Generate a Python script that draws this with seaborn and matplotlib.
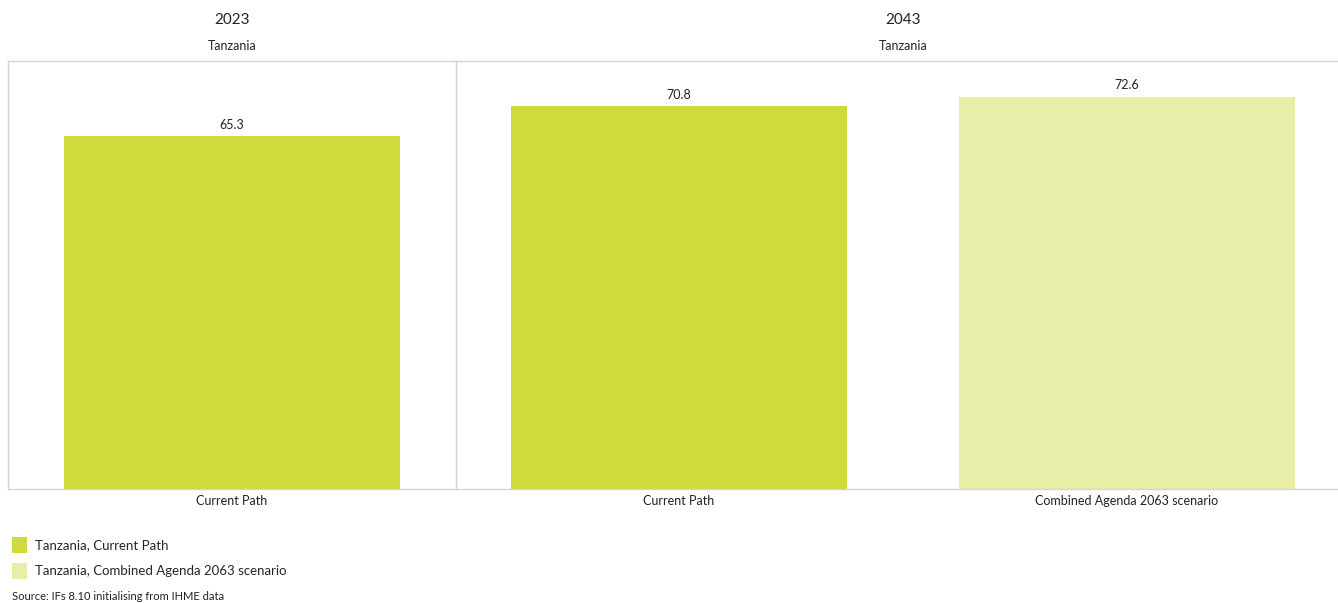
import matplotlib
matplotlib.use("Agg")
import matplotlib.pyplot as plt
import seaborn as sns
import pandas as pd
from matplotlib.patches import Patch

sns.set_theme(style="white")
plt.rcParams['font.family'] = ['Lato', 'DejaVu Sans']

years = ["2023", "2043"]
country = "Tanzania"
cats_2023 = ["Current Path"]
vals_2023 = [65.3]
cats_2043 = ["Current Path", "Combined Agenda 2063 scenario"]
vals_2043 = [70.8, 72.6]
legend_labels = ["Tanzania, Current Path", "Tanzania, Combined Agenda 2063 scenario"]
source = "Source: IFs 8.10 initialising from IHME data"

c_cp = "#D0DA3B"
c_ag = "#E8EDA7"
colors = {"Current Path": c_cp, "Combined Agenda 2063 scenario": c_ag}

W, H = 1338, 603
fig = plt.figure(figsize=(W / 100, H / 100), dpi=100)

def fax(x0, x1, y0=61, y1=489):
    return fig.add_axes([x0 / W, (H - y1) / H, (x1 - x0) / W, (y1 - y0) / H])

ax2 = fax(455, 1351)
ax1 = fax(8, 456)
ax1.patch.set_alpha(0)

ymax = 79.2
for ax, cats, vals, yr in [(ax1, cats_2023, vals_2023, years[0]), (ax2, cats_2043, vals_2043, years[1])]:
    df = pd.DataFrame({"cat": cats, "val": vals})
    sns.barplot(data=df, x="cat", y="val", hue="cat", palette=colors, width=0.75,
                legend=False, ax=ax, saturation=1, linewidth=0)
    ax.set_ylim(0, ymax)
    ax.set_xlim(-0.5, len(cats) - 0.5)
    ax.set_xlabel("")
    ax.set_ylabel("")
    ax.set_yticks([])
    ax.tick_params(axis="x", length=0, labelsize=9, colors="#222222", pad=4)
    for s in ax.spines.values():
        s.set_color("#d4d4d4")
        s.set_linewidth(1)
    for c in ax.containers:
        ax.bar_label(c, fmt="%.1f", padding=4, fontsize=9, color="#222222")
    ax.text(0.5, 1.0 + 41 / 428, yr, transform=ax.transAxes, ha="center", va="center",
            fontsize=11, color="#222222")
    ax.text(0.5, 1.0 + 15 / 428, country, transform=ax.transAxes, ha="center", va="center",
            fontsize=9, color="#222222")

ax2.spines["left"].set_visible(False)

handles = [Patch(facecolor=c_cp, edgecolor="none"), Patch(facecolor=c_ag, edgecolor="none")]
fig.legend(handles, legend_labels, loc="upper left", bbox_to_anchor=(1 / W, (H - 526) / H),
           frameon=False, fontsize=9.5, handlelength=1.2, handleheight=1.5,
           handletextpad=0.6, labelspacing=0.75, borderpad=0.3)
fig.text(12 / W, (H - 597) / H, source, ha="left", va="center", fontsize=8, color="#222222")

fig.savefig("out.png", dpi=100)
